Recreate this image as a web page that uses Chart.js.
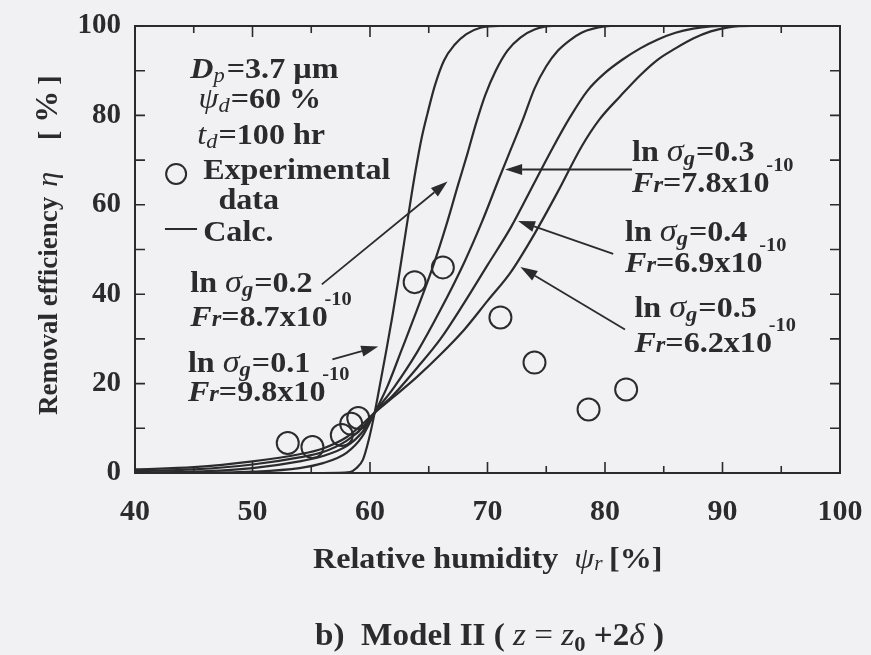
<!DOCTYPE html>
<html lang="en">
<head>
<meta charset="UTF-8">
<title>Removal efficiency vs relative humidity</title>
<script src="https://cdn.jsdelivr.net/npm/chart.js"></script>
<style>
  html, body { margin: 0; padding: 0; background: #f1f0f2; }
  #wrap { width: 871px; height: 655px; }
</style>
</head>
<body>
<div id="wrap"><canvas id="chart" width="871" height="655"></canvas></div>
<script>
// experimental points
const expHumidity   = [53.0, 55.1, 57.6, 58.4, 59.0, 63.8, 66.2, 71.1, 74.0, 78.6, 81.8];
const expEfficiency = [6.7, 5.8, 8.5, 11.0, 12.3, 42.7, 46.0, 34.8, 24.7, 14.2, 18.7];

// calculated curves (ln sigma_g = 0.1 ... 0.5)
const calc1X = [40, 50, 56, 58.3, 58.8, 59.4, 59.9, 60.4, 60.9, 61.4, 61.9, 62.4, 62.9, 63.4, 63.9, 64.4, 64.9, 65.5, 66.3, 67.2, 68.2, 69.4, 71, 100];
const calc1Y = [0, 0, 0, 0.2, 1, 3, 7.5, 13.5, 20.5, 27.6, 35, 43, 51.5, 60, 68, 75, 80.5, 86.5, 92.3, 95.8, 98.2, 99.6, 100, 100];
const calc2X = [40, 45, 50, 54, 56, 58, 59.3, 60.4, 61.5, 62.7, 64.0, 65.4, 66.5, 67.5, 68.3, 69.0, 69.8, 70.7, 71.7, 72.8, 74.0, 75.5, 100];
const calc2Y = [0, 0.05, 0.3, 1.1, 2.2, 4.5, 8, 13.5, 19.5, 27.6, 36.5, 46.5, 55.5, 64.5, 71.5, 78, 84.5, 90, 94.5, 97.4, 99.2, 100, 100];
const calc3X = [40, 45, 50, 54, 56, 58, 59.3, 60.4, 62, 64, 66, 68, 69.5, 71, 72, 73, 74, 75, 76, 77, 78, 79, 80.5, 100];
const calc3Y = [0.1, 0.3, 1.1, 2.6, 3.8, 6, 9, 13.5, 19, 27, 36.5, 47, 56, 66, 72.5, 79, 86, 91, 94.5, 96.8, 98.5, 99.4, 100, 100];
const calc4X = [40, 45, 50, 54, 56, 58, 59.3, 60.4, 62, 64, 66, 68, 70, 72, 74, 75.5, 77, 78.5, 80, 81.5, 83, 84.5, 86, 87.5, 89, 90, 100];
const calc4Y = [0.4, 0.8, 1.9, 3.5, 4.7, 7.2, 10, 13.5, 17.5, 23.5, 30, 38, 46.5, 55, 65, 72.5, 79.5, 85.5, 89.5, 92.5, 95, 97, 98.5, 99.4, 99.9, 100, 100];
const calc5X = [40, 45, 50, 54, 56, 58, 59.3, 60.4, 62, 64, 66, 68, 70, 72, 74, 76, 78, 79.5, 81.3, 83, 84.5, 86, 87.5, 89, 90.5, 92.5, 100];
const calc5Y = [0.8, 1.3, 2.6, 4.2, 5.5, 8, 10.8, 13.5, 17, 21.5, 26.5, 32, 38.5, 45, 53.5, 63, 73, 79, 84.3, 89, 92.5, 95, 97.2, 98.8, 99.7, 100, 100];

const sigmaValues = ['0.1', '0.2', '0.3', '0.4', '0.5'];
const frValues    = ['9.8', '8.7', '7.8', '6.9', '6.2'];

// tick labels and tick marks
const xLabels = [40, 50, 60, 70, 80, 90, 100];
const yLabels = [0, 20, 40, 60, 80, 100];
const xMarks  = [40, 45, 50, 55, 60, 65, 70, 75, 80, 85, 90, 95, 100];
const yMarks  = [0, 10, 20, 30, 40, 50, 60, 70, 80, 90, 100];

const INK = '#2b2a2e';
const SERIF = '"Liberation Serif", "Times New Roman", serif';
const FS = 30, SUB = 21, SUP = 19;
const STRETCH = 1.07;

function font(style, size) { return style + ' ' + size + 'px ' + SERIF; }

// draws a run of differently styled pieces: [text, style, size, dy, extraGap]
function drawRich(ctx, x, y, parts, sx) {
  ctx.save();
  ctx.translate(x, y);
  ctx.scale(sx || 1, 1);
  let cx = 0;
  for (const p of parts) {
    ctx.font = font(p[1], p[2]);
    ctx.fillText(p[0], cx, p[3] || 0);
    cx += ctx.measureText(p[0]).width + (p[4] || 0);
  }
  ctx.restore();
}

function sigmaText(v) {
  return [['ln ', 'bold', FS], ['σ', 'italic', FS + 2], ['g', 'italic bold', SUB, 4, 1], ['=' + v, 'bold', FS]];
}
function frText(v) {
  return [['F', 'italic bold', FS], ['r', 'italic bold', SUB + 2], ['=' + v + 'x10', 'bold', FS, 0, -3], ['-10', 'bold', SUP, -21]];
}

// annotation anchors (left / baseline) in data units
const notes = [
  { x: 44.5, y: 22.7, parts: sigmaText(sigmaValues[0]) },
  { x: 44.5, y: 16.0, parts: frText(frValues[0]) },
  { x: 44.7, y: 40.4, parts: sigmaText(sigmaValues[1]) },
  { x: 44.7, y: 32.8, parts: frText(frValues[1]) },
  { x: 82.3, y: 69.9, parts: sigmaText(sigmaValues[2]) },
  { x: 82.3, y: 62.9, parts: frText(frValues[2]) },
  { x: 81.7, y: 52.0, parts: sigmaText(sigmaValues[3]) },
  { x: 81.7, y: 44.9, parts: frText(frValues[3]) },
  { x: 82.5, y: 34.8, parts: sigmaText(sigmaValues[4]) },
  { x: 82.5, y: 27.0, parts: frText(frValues[4]) },
  { x: 44.7, y: 88.3, parts: [['D', 'italic bold', FS], ['p', 'italic', SUB, 4, 2], ['=3.7 µm', 'bold', FS]] },
  { x: 45.4, y: 81.6, parts: [['ψ', 'italic', FS], ['d', 'italic', SUB, 4, 1], ['=60 %', 'bold', FS]] },
  { x: 45.3, y: 73.7, parts: [['t', 'italic', FS], ['d', 'italic', SUB, 4, 1], ['=100 hr', 'bold', FS]] },
  { x: 45.8, y: 65.8, parts: [['Experimental', 'bold', FS]] },
  { x: 47.1, y: 59.1, parts: [['data', 'bold', FS]] },
  { x: 45.8, y: 51.9, parts: [['Calc.', 'bold', FS]] }
];

// arrows: [fromX, fromY, toX, toY] in data units
const arrows = [
  [56.8, 25.4, 60.7, 28.3],
  [55.9, 42.2, 66.6, 65.2],
  [82.3, 67.9, 71.5, 67.9],
  [80.7, 49.0, 72.6, 56.4],
  [81.7, 32.1, 72.8, 46.1]
];

const calcCurves = [[calc1X, calc1Y], [calc2X, calc2Y], [calc3X, calc3Y], [calc4X, calc4Y], [calc5X, calc5Y]];

const datasets = calcCurves.map((c, i) => ({
  label: 'ln σg=' + sigmaValues[i],
  data: c[0].map((v, j) => ({ x: v, y: c[1][j] })),
  showLine: true,
  borderColor: INK,
  borderWidth: 2.2,
  pointRadius: 0,
  fill: false,
  cubicInterpolationMode: 'monotone'
}));
datasets.push({
  label: 'Experimental data',
  data: expHumidity.map((v, j) => ({ x: v, y: expEfficiency[j] })),
  showLine: false,
  pointRadius: 11,
  pointBorderWidth: 2,
  pointBorderColor: INK,
  pointBackgroundColor: 'rgba(0,0,0,0)'
});

const paperPlugin = {
  id: 'paper',
  beforeDraw(chart) {
    const ctx = chart.ctx;
    ctx.save();
    ctx.fillStyle = '#f1f0f2';
    ctx.fillRect(0, 0, chart.width, chart.height);
    ctx.restore();
  },
  afterDraw(chart) {
    const ctx = chart.ctx;
    const a = chart.chartArea;
    const xs = chart.scales.x, ys = chart.scales.y;
    ctx.save();
    ctx.strokeStyle = INK;
    ctx.fillStyle = INK;

    // frame
    ctx.lineWidth = 2;
    ctx.strokeRect(a.left, a.top, a.right - a.left, a.bottom - a.top);

    // inward ticks
    ctx.lineWidth = 1.6;
    ctx.beginPath();
    xMarks.forEach(v => {
      const px = xs.getPixelForValue(v);
      const len = v % 10 === 0 ? 11 : 7;
      ctx.moveTo(px, a.bottom); ctx.lineTo(px, a.bottom - len);
      ctx.moveTo(px, a.top); ctx.lineTo(px, a.top + len);
    });
    yMarks.forEach(v => {
      const py = ys.getPixelForValue(v);
      ctx.moveTo(a.left, py); ctx.lineTo(a.left + 10, py);
      ctx.moveTo(a.right, py); ctx.lineTo(a.right - 10, py);
    });
    ctx.stroke();

    // annotations
    ctx.textBaseline = 'alphabetic';
    ctx.textAlign = 'left';
    notes.forEach(n => drawRich(ctx, xs.getPixelForValue(n.x), ys.getPixelForValue(n.y), n.parts, STRETCH));

    // legend symbols
    ctx.lineWidth = 2;
    ctx.beginPath();
    ctx.arc(xs.getPixelForValue(43.5), ys.getPixelForValue(66.9), 10, 0, Math.PI * 2);
    ctx.stroke();
    ctx.beginPath();
    ctx.moveTo(xs.getPixelForValue(42.55), ys.getPixelForValue(54.6));
    ctx.lineTo(xs.getPixelForValue(45.28), ys.getPixelForValue(54.6));
    ctx.stroke();

    // arrows
    ctx.lineWidth = 1.8;
    arrows.forEach(r => {
      const x0 = xs.getPixelForValue(r[0]), y0 = ys.getPixelForValue(r[1]);
      const x1 = xs.getPixelForValue(r[2]), y1 = ys.getPixelForValue(r[3]);
      const ang = Math.atan2(y1 - y0, x1 - x0);
      const hl = 17, hw = 5.5;
      const bx = x1 - hl * Math.cos(ang), by = y1 - hl * Math.sin(ang);
      ctx.beginPath();
      ctx.moveTo(x0, y0); ctx.lineTo(bx, by);
      ctx.stroke();
      ctx.beginPath();
      ctx.moveTo(x1, y1);
      ctx.lineTo(bx + hw * Math.sin(ang), by - hw * Math.cos(ang));
      ctx.lineTo(bx - hw * Math.sin(ang), by + hw * Math.cos(ang));
      ctx.closePath();
      ctx.fill();
    });

    // axis titles
    drawRich(ctx, 313, 568, [['Relative humidity  ', 'bold', 30], ['ψ', 'italic', 30], ['r', 'italic', 20, 2, 6], ['[%]', 'bold', 30]], STRETCH);
    ctx.save();
    ctx.translate(57, 415);
    ctx.rotate(-Math.PI / 2);
    drawRich(ctx, 0, 0, [['Removal efficiency', 'bold', 27, 0, 10], ['η', 'italic', 30, 0, 32], ['[', 'bold', 28, 0, 8], ['%', 'bold', 32, 0, 6], [']', 'bold', 28]]);
    ctx.restore();

    // caption
    drawRich(ctx, 315, 645, [['b)  Model II ( ', 'bold', 31], ['z', 'italic', 31], [' = ', 'normal', 31], ['z', 'italic', 31], ['0', 'bold', 21, 6], [' +2', 'bold', 31], ['δ', 'italic', 31], [' )', 'bold', 31]], STRETCH);
    ctx.restore();
  }
};

new Chart(document.getElementById('chart'), {
  type: 'scatter',
  data: { datasets: datasets },
  options: {
    responsive: false,
    animation: false,
    layout: { padding: { top: 26, right: 31, left: 0, bottom: 0 } },
    plugins: { legend: { display: false }, tooltip: { enabled: false } },
    scales: {
      x: {
        type: 'linear', min: 40, max: 100,
        grid: { display: false, drawTicks: false },
        border: { display: false },
        ticks: { color: INK, font: { family: SERIF, size: 30, weight: 'bold' }, padding: 21, autoSkip: false, maxRotation: 0 },
        afterBuildTicks: s => { s.ticks = xLabels.map(v => ({ value: v })); },
        afterFit: s => { s.height = 182; s.paddingLeft = 0; s.paddingRight = 0; }
      },
      y: {
        type: 'linear', min: 0, max: 100,
        grid: { display: false, drawTicks: false },
        border: { display: false },
        ticks: { color: INK, font: { family: SERIF, size: 29, weight: 'bold' }, padding: 14, autoSkip: false },
        afterBuildTicks: s => { s.ticks = yLabels.map(v => ({ value: v })); },
        afterFit: s => { s.width = 135; s.paddingTop = 0; s.paddingBottom = 0; }
      }
    }
  },
  plugins: [paperPlugin]
});
</script>
</body>
</html>
